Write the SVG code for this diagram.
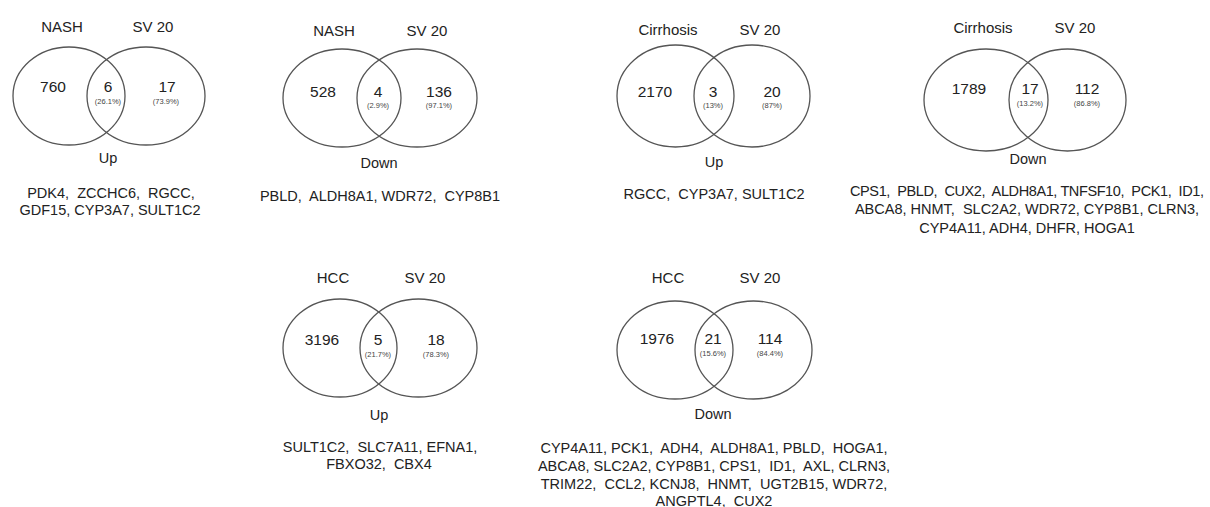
<svg xmlns="http://www.w3.org/2000/svg" width="1210" height="507" viewBox="0 0 1210 507">
<style>
text{font-family:"Liberation Sans",Arial,sans-serif;fill:#222;text-anchor:middle;white-space:pre}
.t{font-size:15px}
.n{font-size:15.5px}
.p{font-size:7.5px;fill:#444}
.d{font-size:14.5px}
.g{font-size:14.5px}
ellipse{fill:none;stroke:#555;stroke-width:1.3}
</style>
<rect width="1210" height="507" fill="#fff"/>
<g id="venn-nash-up">
<ellipse cx="69" cy="96" rx="56" ry="49"/>
<ellipse cx="146" cy="96" rx="59" ry="49"/>
<text class="t" x="62" y="32">NASH</text>
<text class="t" x="153" y="32">SV 20</text>
<text class="n" x="53" y="92">760</text>
<text class="n" x="108" y="92">6</text>
<text class="p" x="108" y="104">(26.1%)</text>
<text class="n" x="167" y="92">17</text>
<text class="p" x="166" y="104">(73.9%)</text>
<text class="d" x="108" y="163">Up</text>
<text class="g" x="111" y="198">PDK4,  ZCCHC6,  RGCC,</text>
<text class="g" x="110" y="215">GDF15, CYP3A7, SULT1C2</text>
</g>
<g id="venn-nash-down">
<ellipse cx="342" cy="98" rx="59" ry="49"/>
<ellipse cx="417" cy="98" rx="60" ry="49"/>
<text class="t" x="334" y="36">NASH</text>
<text class="t" x="427" y="36">SV 20</text>
<text class="n" x="323" y="97">528</text>
<text class="n" x="378" y="97">4</text>
<text class="p" x="378" y="108">(2.9%)</text>
<text class="n" x="439" y="97">136</text>
<text class="p" x="439" y="108">(97.1%)</text>
<text class="d" x="379" y="168">Down</text>
<text class="g" x="380" y="201">PBLD,  ALDH8A1, WDR72,  CYP8B1</text>
</g>
<g id="venn-cirrhosis-up">
<ellipse cx="675.5" cy="96" rx="58.5" ry="51"/>
<ellipse cx="752" cy="96" rx="58" ry="51"/>
<text class="t" x="668" y="35">Cirrhosis</text>
<text class="t" x="760" y="35">SV 20</text>
<text class="n" x="655" y="97">2170</text>
<text class="n" x="713" y="97">3</text>
<text class="p" x="713" y="108">(13%)</text>
<text class="n" x="772" y="97">20</text>
<text class="p" x="772" y="108">(87%)</text>
<text class="d" x="714" y="167">Up</text>
<text class="g" x="714" y="199">RGCC,  CYP3A7, SULT1C2</text>
</g>
<g id="venn-cirrhosis-down">
<ellipse cx="986" cy="100" rx="62" ry="51"/>
<ellipse cx="1067.5" cy="100" rx="58.5" ry="51"/>
<text class="t" x="983" y="33">Cirrhosis</text>
<text class="t" x="1075" y="33">SV 20</text>
<text class="n" x="969" y="94">1789</text>
<text class="n" x="1030" y="94">17</text>
<text class="p" x="1030" y="106">(13.2%)</text>
<text class="n" x="1087" y="94">112</text>
<text class="p" x="1087" y="106">(86.8%)</text>
<text class="d" x="1028" y="164">Down</text>
<text class="g" x="1027" y="196" textLength="354" lengthAdjust="spacing">CPS1,  PBLD,  CUX2,  ALDH8A1, TNFSF10,  PCK1,  ID1,</text>
<text class="g" x="1027" y="214">ABCA8, HNMT,  SLC2A2, WDR72, CYP8B1, CLRN3,</text>
<text class="g" x="1027" y="233">CYP4A11, ADH4, DHFR, HOGA1</text>
</g>
<g id="venn-hcc-up">
<ellipse cx="340" cy="348" rx="57" ry="49"/>
<ellipse cx="418.5" cy="348" rx="58.5" ry="49"/>
<text class="t" x="333" y="283">HCC</text>
<text class="t" x="425" y="283">SV 20</text>
<text class="n" x="322" y="345">3196</text>
<text class="n" x="378" y="345">5</text>
<text class="p" x="378" y="357">(21.7%)</text>
<text class="n" x="436" y="345">18</text>
<text class="p" x="436" y="357">(78.3%)</text>
<text class="d" x="379" y="420">Up</text>
<text class="g" x="380" y="452">SULT1C2,  SLC7A11, EFNA1,</text>
<text class="g" x="379" y="469">FBXO32,  CBX4</text>
</g>
<g id="venn-hcc-down">
<ellipse cx="675" cy="350" rx="58" ry="49"/>
<ellipse cx="753.5" cy="350" rx="58.5" ry="49"/>
<text class="t" x="668" y="283">HCC</text>
<text class="t" x="760" y="283">SV 20</text>
<text class="n" x="657" y="344">1976</text>
<text class="n" x="713" y="344">21</text>
<text class="p" x="713" y="356">(15.6%)</text>
<text class="n" x="770" y="344">114</text>
<text class="p" x="770" y="356">(84.4%)</text>
<text class="d" x="713" y="419">Down</text>
<text class="g" x="714" y="453">CYP4A11, PCK1,  ADH4,  ALDH8A1, PBLD,  HOGA1,</text>
<text class="g" x="714" y="471">ABCA8, SLC2A2, CYP8B1, CPS1,  ID1,  AXL, CLRN3,</text>
<text class="g" x="714" y="489">TRIM22,  CCL2, KCNJ8,  HNMT,  UGT2B15, WDR72,</text>
<text class="g" x="714" y="506">ANGPTL4,  CUX2</text>
</g>
<g id="connectors"/>
</svg>
